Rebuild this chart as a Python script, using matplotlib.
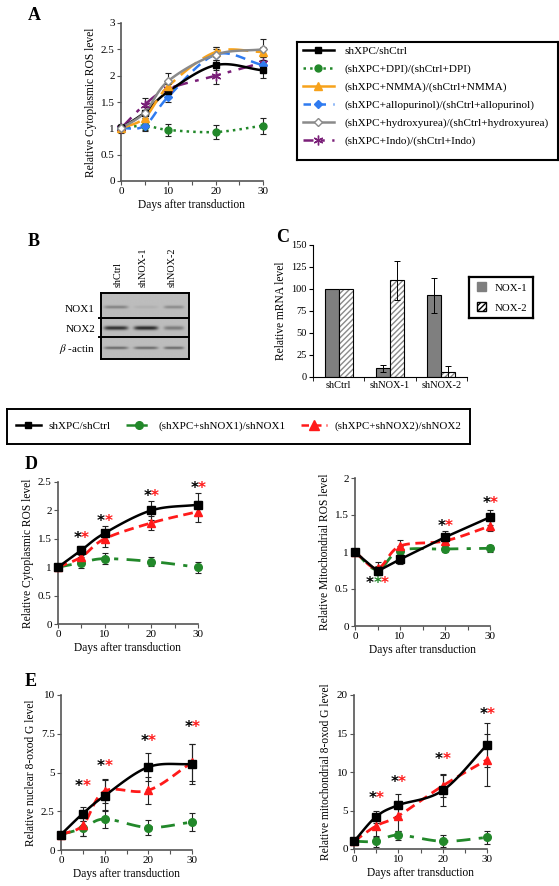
import numpy as np
import matplotlib
matplotlib.use("Agg")
import matplotlib.pyplot as plt
from matplotlib.lines import Line2D
from matplotlib.patches import Patch
from matplotlib.transforms import offset_copy

plt.rcParams['font.family'] = ['Liberation Serif', 'DejaVu Serif']
plt.rcParams['mathtext.fontset'] = 'stix'

W, H = 559, 886
days = [0, 5, 10, 20, 30]

# ---- panel A data ----
a_labels = ["shXPC/shCtrl", "(shXPC+DPI)/(shCtrl+DPI)", "(shXPC+NMMA)/(shCtrl+NMMA)",
            "(shXPC+allopurinol)/(shCtrl+allopurinol)", "(shXPC+hydroxyurea)/(shCtrl+hydroxyurea)",
            "(shXPC+Indo)/(shCtrl+Indo)"]
a_ctrl = [1.0, 1.3, 1.7, 2.2, 2.1]
a_ctrl_err = [0.05, 0.05, 0.08, 0.1, 0.15]
a_dpi = [1.0, 1.05, 0.97, 0.93, 1.05]
a_dpi_err = [0.08, 0.1, 0.12, 0.13, 0.15]
a_nmma = [1.0, 1.2, 1.8, 2.45, 2.45]
a_nmma_err = [0.05, 0.1, 0.1, 0.1, 0.1]
a_allo = [1.0, 1.05, 1.6, 2.4, 2.2]
a_allo_err = [0.05, 0.08, 0.1, 0.1, 0.1]
a_hydro = [1.0, 1.3, 1.9, 2.4, 2.5]
a_hydro_err = [0.05, 0.1, 0.15, 0.15, 0.2]
a_indo = [1.0, 1.45, 1.75, 2.0, 2.25]
a_indo_err = [0.05, 0.12, 0.1, 0.15, 0.1]

# ---- panel B (blot band intensities, lanes shCtrl / shNOX-1 / shNOX-2) ----
blot_lanes = ["shCtrl", "shNOX-1", "shNOX-2"]
blot_rows = ["NOX1", "NOX2", r"$\beta$ -actin"]
band_nox1 = [0.35, 0.08, 0.3]
band_nox2 = [0.85, 0.9, 0.4]
band_actin = [0.5, 0.5, 0.5]

# ---- panel C data ----
c_cats = ["shCtrl", "shNOX-1", "shNOX-2"]
c_nox1 = [100, 10, 93]
c_nox1_err = [0, 4, 20]
c_nox2 = [100, 110, 6]
c_nox2_err = [0, 22, 7]

# ---- panels D / E data ----
de_labels = ["shXPC/shCtrl", "(shXPC+shNOX1)/shNOX1", "(shXPC+shNOX2)/shNOX2"]
d1_ctrl = [1.0, 1.3, 1.6, 2.0, 2.1]
d1_ctrl_err = [0.04, 0.08, 0.12, 0.17, 0.2]
d1_nox1 = [1.0, 1.08, 1.15, 1.1, 1.0]
d1_nox1_err = [0.04, 0.1, 0.1, 0.08, 0.1]
d1_nox2 = [1.0, 1.18, 1.5, 1.78, 1.98]
d1_nox2_err = [0.04, 0.1, 0.15, 0.12, 0.18]

d2_ctrl = [1.0, 0.74, 0.9, 1.2, 1.47]
d2_ctrl_err = [0.03, 0.05, 0.06, 0.08, 0.1]
d2_nox1 = [1.0, 0.76, 1.02, 1.04, 1.05]
d2_nox1_err = [0.03, 0.05, 0.06, 0.04, 0.05]
d2_nox2 = [1.0, 0.78, 1.08, 1.15, 1.35]
d2_nox2_err = [0.03, 0.08, 0.08, 0.06, 0.07]

e1_ctrl = [1.0, 2.35, 3.5, 5.35, 5.55]
e1_ctrl_err = [0.1, 0.45, 1.0, 0.9, 1.3]
e1_nox1 = [1.0, 1.4, 2.0, 1.45, 1.8]
e1_nox1_err = [0.1, 0.5, 0.6, 0.5, 0.6]
e1_nox2 = [1.0, 1.6, 3.8, 3.85, 5.65]
e1_nox2_err = [0.1, 0.7, 0.75, 0.85, 1.2]

e2_ctrl = [1.0, 4.2, 5.7, 7.6, 13.5]
e2_ctrl_err = [0.1, 0.8, 1.4, 2.0, 2.9]
e2_nox1 = [1.0, 1.0, 1.8, 1.0, 1.5]
e2_nox1_err = [0.1, 0.7, 0.6, 0.8, 0.9]
e2_nox2 = [1.0, 3.0, 4.3, 8.2, 11.6]
e2_nox2_err = [0.1, 1.5, 1.9, 1.5, 3.4]

# star heights (significance marks)
d1_star_y = [1.5, 1.8, 2.25, 2.38]
d2_star_y = [0.57, 1.35, 1.65]
e1_star_y = [4.1, 5.4, 7.0, 7.9]
e2_star_y = [6.5, 8.7, 11.6, 17.5]


def px_axes(fig, x0, y0, x1, y1):
    return fig.add_axes([x0 / W, 1 - y1 / H, (x1 - x0) / W, (y1 - y0) / H])


def smooth(x, y, n=25):
    # Catmull-Rom curve through the points (like Excel's smoothed line)
    x = np.asarray(x, float)
    y = np.asarray(y, float)
    px = np.concatenate([[2 * x[0] - x[1]], x, [2 * x[-1] - x[-2]]])
    py = np.concatenate([[2 * y[0] - y[1]], y, [2 * y[-1] - y[-2]]])
    t = np.linspace(0, 1, n)
    xs, ys = [], []
    for i in range(1, len(px) - 2):
        for p, out in ((px, xs), (py, ys)):
            p0, p1, p2, p3 = p[i - 1], p[i], p[i + 1], p[i + 2]
            out.append(0.5 * (2 * p1 + (-p0 + p2) * t + (2 * p0 - 5 * p1 + 4 * p2 - p3) * t ** 2
                              + (-p0 + 3 * p1 - 3 * p2 + p3) * t ** 3))
    return np.concatenate(xs), np.concatenate(ys)


def series(ax, y, err, color, ls, marker, ms=5, mfc=None, curve=True, lw=1.8, ecolor='#222222'):
    if curve:
        sx, sy = smooth(days, y)
    else:
        sx, sy = days, y
    ax.plot(sx, sy, color=color, ls=ls, lw=lw, clip_on=False, zorder=3)
    ax.errorbar(days, y, yerr=err, fmt='none', ecolor=ecolor, elinewidth=0.8, capsize=2,
                capthick=0.8, clip_on=False, zorder=4)
    ax.plot(days, y, ls='none', marker=marker, ms=ms, color=color,
            mfc=color if mfc is None else mfc, mec=color, clip_on=False, zorder=5)


def style_time_axes(ax, ymax, ystep, ylabel):
    ticks = np.arange(0, ymax + 1e-9, ystep)
    ax.set_xlim(0, 30)
    ax.set_ylim(0, ymax)
    ax.set_xticks([0, 10, 20, 30])
    ax.set_xticks([5, 15, 25], minor=True)
    ax.set_yticks(ticks)
    ax.set_yticklabels(['%g' % v for v in ticks])
    for s in ['top', 'right']:
        ax.spines[s].set_visible(False)
    for s in ['left', 'bottom']:
        ax.spines[s].set_color('#555555')
        ax.spines[s].set_linewidth(1.2)
    ax.tick_params(which='both', direction='out', length=3, width=0.8, color='#555555',
                   labelsize=8, pad=1.5)
    ax.set_xlabel("Days after transduction", fontsize=8.3, labelpad=2)
    ax.set_ylabel(ylabel, fontsize=8.3, labelpad=3)


def stars(ax, xs, ys, colors, gap=7.5):
    n = len(colors)
    for x, y in zip(xs, ys):
        for k, c in enumerate(colors):
            off = (k - (n - 1) / 2) * gap * 0.72
            tr = offset_copy(ax.transData, fig=ax.figure, x=off, y=0, units='points')
            ax.text(x, y, '*', color=c, fontsize=11, family='DejaVu Sans', fontweight='bold',
                    ha='center', va='center', transform=tr, clip_on=False)


fig = plt.figure(figsize=(W / 100, H / 100), dpi=100)

GREEN = '#22882a'
ORANGE = '#f7a21b'
BLUE = '#2f7bf0'
GRAY = '#8a8a8a'
PURPLE = '#7a1f78'
RED = '#ff1a1a'

# ================= panel A =================
axA = px_axes(fig, 121, 23, 263, 181)
series(axA, a_dpi, a_dpi_err, GREEN, ':', 'o', ms=5)
series(axA, a_indo, a_indo_err, PURPLE, (0, (6, 3, 1.5, 3)), (6, 2, 0), ms=7)
series(axA, a_allo, a_allo_err, BLUE, (0, (4, 2.5)), 'D', ms=4.5)
series(axA, a_ctrl, a_ctrl_err, 'black', '-', 's', ms=5)
series(axA, a_nmma, a_nmma_err, ORANGE, (0, (8, 3)), '^', ms=5.5)
series(axA, a_hydro, a_hydro_err, GRAY, '-', 'D', ms=4.5, mfc='white')
style_time_axes(axA, 3, 0.5, "Relative Cytoplasmic ROS level")
fig.text(28 / W, 1 - 16 / H, "A", fontsize=13, fontweight='bold', va='center')

legA = px_axes(fig, 297, 42, 558, 160)
legA.set_xticks([])
legA.set_yticks([])
for s in legA.spines.values():
    s.set_linewidth(1.5)
hA = [Line2D([], [], color='black', ls='-', marker='s', lw=1.8, ms=5),
      Line2D([], [], color=GREEN, ls=':', marker='o', lw=1.8, ms=5),
      Line2D([], [], color=ORANGE, ls='-', marker='^', lw=1.8, ms=6),
      Line2D([], [], color=BLUE, ls=(0, (3, 3)), marker='D', lw=1.8, ms=4.5),
      Line2D([], [], color=GRAY, ls='-', marker='D', lw=1.8, ms=4.5, mfc='white'),
      Line2D([], [], color=PURPLE, ls=(0, (4, 3, 1.5, 3)), marker=(6, 2, 0), lw=1.8, ms=7)]
legA.legend(hA, a_labels, loc='upper left', bbox_to_anchor=(0.0, 1.01), frameon=False,
            fontsize=8.1, handlelength=2.8, handletextpad=0.9, labelspacing=0.7, borderaxespad=0.1)

# ================= panel B (blot) =================
fig.text(28 / W, 1 - 242 / H, "B", fontsize=13, fontweight='bold', va='center')
axB = px_axes(fig, 101, 293, 189, 359)
gx = np.linspace(101, 189, 300)
gy = np.linspace(293, 359, 240)
GX, GY = np.meshgrid(gx, gy)
img = np.full(GX.shape, 0.74)
lane_x = [116, 146, 174]
lane_w = [12, 12, 10]
for row_y, vals, th in ((307, band_nox1, 1.6), (328, band_nox2, 2.0), (348, band_actin, 1.4)):
    for lx, lwid, v in zip(lane_x, lane_w, vals):
        prof = np.exp(-((GX - lx) / lwid) ** 6) * np.exp(-((GY - row_y) / th) ** 2)
        img -= v * 0.65 * prof
img = np.clip(img, 0, 1)
axB.imshow(img, cmap='gray', vmin=0, vmax=1, extent=[101, 189, 359, 293], aspect='auto')
axB.set_xlim(101, 189)
axB.set_ylim(359, 293)
axB.set_xticks([])
axB.set_yticks([])
for s in axB.spines.values():
    s.set_linewidth(1.4)
for ysep in (318, 337):
    axB.plot([99, 189], [ysep, ysep], color='black', lw=1.4, clip_on=False)
for lx, name in zip([118, 143, 172], blot_lanes):
    fig.text(lx / W, 1 - 287 / H, name, rotation=90, ha='center', va='bottom', fontsize=7.3)
for ry, name in zip([309, 329, 349], blot_rows):
    fig.text(95 / W, 1 - ry / H, name, ha='right', va='center', fontsize=8)

# ================= panel C =================
fig.text(276 / W, 1 - 238 / H, "C", fontsize=13, fontweight='bold', va='center')
axC = px_axes(fig, 313, 245, 467, 377)
xc = np.arange(len(c_cats))
bw = 0.27
axC.bar(xc - bw / 2, c_nox1, bw, color='#7f7f7f', edgecolor='black', lw=0.8, zorder=2)
axC.bar(xc + bw / 2, c_nox2, bw, color='white', edgecolor='#8a8a8a', hatch='//////', lw=0, zorder=2)
axC.bar(xc + bw / 2, c_nox2, bw, fill=False, edgecolor='black', lw=0.8, zorder=3)
axC.errorbar(xc - bw / 2, c_nox1, yerr=c_nox1_err, fmt='none', ecolor='black', elinewidth=0.7,
             capsize=2, capthick=0.7, zorder=4)
axC.errorbar(xc + bw / 2, c_nox2, yerr=c_nox2_err, fmt='none', ecolor='black', elinewidth=0.7,
             capsize=2, capthick=0.7, zorder=4)
axC.set_xlim(-0.5, 2.5)
axC.set_ylim(0, 150)
axC.set_yticks(np.arange(0, 151, 25))
axC.set_xticks(xc)
axC.set_xticklabels(c_cats)
axC.set_xticks([-0.5, 0.5, 1.5, 2.5], minor=True)
for s in ['top', 'right']:
    axC.spines[s].set_visible(False)
axC.tick_params(axis='x', which='major', length=0, labelsize=7.5, pad=3)
axC.tick_params(axis='x', which='minor', length=3, direction='out')
axC.tick_params(axis='y', length=3, labelsize=7.5, pad=1.5)
axC.set_ylabel("Relative mRNA level", fontsize=8.3, labelpad=3)

legC = px_axes(fig, 469, 277, 533, 318)
legC.set_xticks([])
legC.set_yticks([])
for s in legC.spines.values():
    s.set_linewidth(1.6)
hC = [Patch(facecolor='#7f7f7f', edgecolor='#7f7f7f'),
      Patch(facecolor='white', edgecolor='black', hatch='//////', lw=1.0)]
legC.legend(hC, ["NOX-1", "NOX-2"], loc='center left', frameon=False, fontsize=7.8,
            handlelength=0.9, handleheight=0.9, handletextpad=0.8, labelspacing=0.9,
            borderaxespad=0.3)

# ================= D/E legend =================
legD = px_axes(fig, 7, 409, 470, 444)
legD.set_xticks([])
legD.set_yticks([])
for s in legD.spines.values():
    s.set_linewidth(1.4)
hD = [Line2D([], [], color='black', ls='-', marker='s', lw=1.8, ms=5),
      Line2D([], [], color=GREEN, ls=(0, (4, 3, 1.5, 3)), marker='o', lw=1.8, ms=5.5),
      Line2D([], [], color=RED, ls=(0, (3, 2)), marker='^', lw=1.8, ms=6.5)]
legD.legend(hD, de_labels, loc='center', ncol=3, frameon=False, fontsize=7.9,
            handlelength=2.3, handletextpad=0.7, columnspacing=1.4)


def nox_panel(ax, ctrl, ce, n1, n1e, n2, n2e, ctrl_curve=True):
    series(ax, n1, n1e, GREEN, (0, (5, 3, 1.5, 3)), 'o', ms=5.5, lw=2.0)
    series(ax, n2, n2e, RED, (0, (3.5, 2)), '^', ms=6, lw=2.0)
    series(ax, ctrl, ce, 'black', '-', 's', ms=5.5, curve=ctrl_curve, lw=1.8)


# ================= panel D =================
fig.text(25 / W, 1 - 465 / H, "D", fontsize=13, fontweight='bold', va='center')
axD1 = px_axes(fig, 58, 482, 198, 624)
nox_panel(axD1, d1_ctrl, d1_ctrl_err, d1_nox1, d1_nox1_err, d1_nox2, d1_nox2_err)
style_time_axes(axD1, 2.5, 0.5, "Relative Cytoplasmic ROS level")
stars(axD1, days[1:], d1_star_y, ['black', RED])

axD2 = px_axes(fig, 355, 478, 490, 626)
nox_panel(axD2, d2_ctrl, d2_ctrl_err, d2_nox1, d2_nox1_err, d2_nox2, d2_nox2_err, ctrl_curve=False)
style_time_axes(axD2, 2, 0.5, "Relative Mitochondrial ROS level")
stars(axD2, [5], [d2_star_y[0]], ['black', GREEN, RED])
stars(axD2, [20, 30], d2_star_y[1:], ['black', RED])

# ================= panel E =================
fig.text(25 / W, 1 - 682 / H, "E", fontsize=13, fontweight='bold', va='center')
axE1 = px_axes(fig, 61, 695, 192, 850)
nox_panel(axE1, e1_ctrl, e1_ctrl_err, e1_nox1, e1_nox1_err, e1_nox2, e1_nox2_err)
style_time_axes(axE1, 10, 2.5, "Relative nuclear 8-oxod G level")
stars(axE1, days[1:], e1_star_y, ['black', RED])

axE2 = px_axes(fig, 354, 695, 487, 849)
nox_panel(axE2, e2_ctrl, e2_ctrl_err, e2_nox1, e2_nox1_err, e2_nox2, e2_nox2_err)
style_time_axes(axE2, 20, 5, "Relative mitochondrial 8-oxod G level")
stars(axE2, days[1:], e2_star_y, ['black', RED])

fig.savefig("out.png", dpi=100)
